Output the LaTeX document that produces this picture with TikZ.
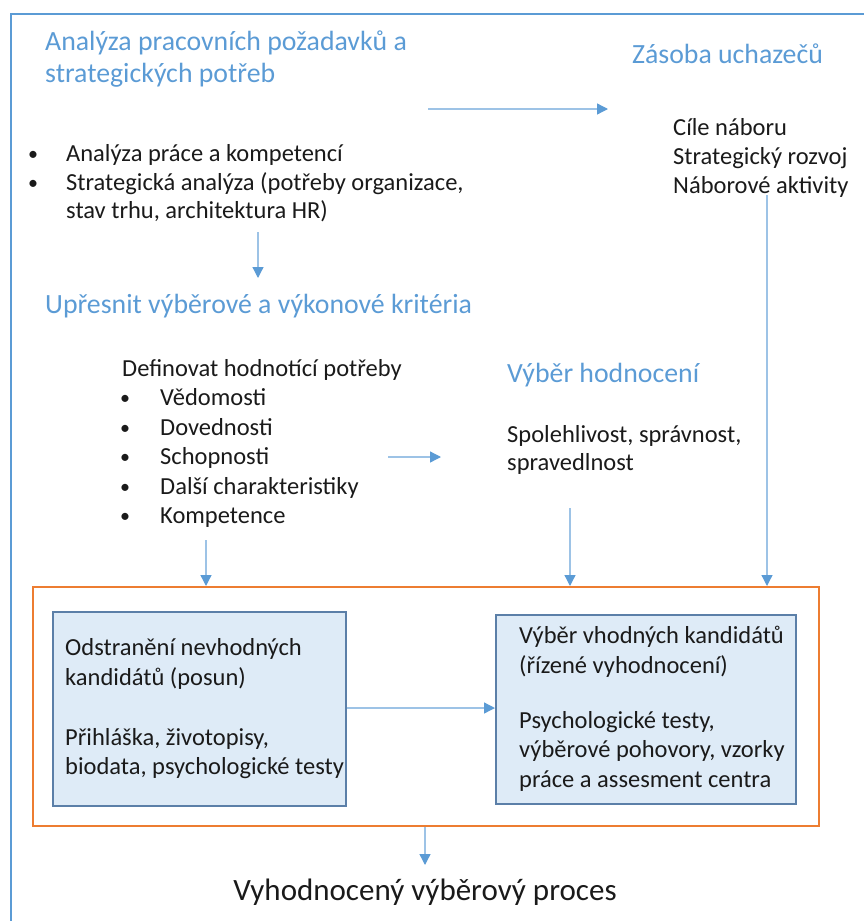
\documentclass[tikz,border=0pt]{standalone}
\usepackage{fontspec}
\setmainfont{Carlito}
\usetikzlibrary{arrows.meta}
\definecolor{hblue}{HTML}{5B9BD5}
\definecolor{lblue}{HTML}{9DC3E6}
\definecolor{borange}{HTML}{ED7D31}
\definecolor{bfill}{HTML}{DEEBF7}
\definecolor{bedge}{HTML}{5B7FA8}
\definecolor{txt}{HTML}{1A1A1A}
\tikzset{
  head/.style={font=\fontsize{27.8}{32}\selectfont, text=hblue, anchor=base west, inner sep=0pt},
  body/.style={font=\fontsize{24.5}{29}\selectfont, text=txt, anchor=base west, inner sep=0pt},
  bul/.style={font=\fontsize{20}{24}\selectfont, text=txt, anchor=base west, inner sep=0pt},
  flow/.style={draw=lblue, line width=1.3pt, -{Triangle[length=11pt,width=11pt,color=hblue]}},
  inbox/.style={draw=bedge, fill=bfill, line width=1.8pt},
}
\begin{document}
\begin{tikzpicture}[x=1pt,y=-1pt]
\useasboundingbox (0,0) rectangle (863,921);
% outer frame
\draw[hblue, line width=2.4pt] (11,940) -- (11,14) -- (880,14);
% headings
\node[head] (t1a) at (45,50) {Analýza pracovních požadavků a};
\node[head] (t1b) at (45,82) {strategických potřeb};
\node[head] (t2) at (632,63) {Zásoba uchazečů};
\node[head] (t3) at (45,313) {Upřesnit výběrové a výkonové kritéria};
\node[head] (t4) at (507,382) {Výběr hodnocení};
% right list
\node[body] (r1) at (673,135) {Cíle náboru};
\node[body] (r2) at (673,164) {Strategický rozvoj};
\node[body] (r3) at (673,193) {Náborové aktivity};
% left list
\node[bul] (b1) at (28,160) {•};
\node[body] (l1) at (66,161) {Analýza práce a kompetencí};
\node[bul] (b2) at (28,189) {•};
\node[body] (l2) at (66,190) {Strategická analýza (potřeby organizace,};
\node[body] (l3) at (66,218) {stav trhu, architektura HR)};
% criteria list
\node[body] (d0) at (122,376) {Definovat hodnotící potřeby};
\foreach \y/\t [count=\i] in {405/Vědomosti,435/Dovednosti,464/Schopnosti,494/Další charakteristiky,523/Kompetence}{
  \node[bul] (db\i) at (120,\y-1) {•};
  \node[body] (d\i) at (160,\y) {\t};
}
% assessment
\node[body] (s1) at (507,442) {Spolehlivost, správnost,};
\node[body] (s2) at (507,470) {spravedlnost};
% orange frame
\node[draw=borange, line width=1.8pt, minimum width=786pt, minimum height=239pt, inner sep=0pt, anchor=north west] (frame) at (32,586) {};
% boxes
\node[inbox, minimum width=293pt, minimum height=194pt, inner sep=0pt, anchor=north west] (boxL) at (52,611) {};
\node[inbox, minimum width=300pt, minimum height=189pt, inner sep=0pt, anchor=north west] (boxR) at (495,614) {};
\node[body] (L1) at (65,655) {Odstranění nevhodných};
\node[body] (L2) at (65,685) {kandidátů (posun)};
\node[body] (L3) at (65,745) {Přihláška, životopisy,};
\node[body] (L4) at (65,774) {biodata, psychologické testy};
\node[body] (R1) at (519,643) {Výběr vhodných kandidátů};
\node[body] (R2) at (519,673) {(řízené vyhodnocení)};
\node[body] (R3) at (519,728) {Psychologické testy,};
\node[body] (R4) at (519,757) {výběrové pohovory, vzorky};
\node[body] (R5) at (519,787) {práce a assesment centra};
% final
\node[font=\fontsize{31}{37}\selectfont, text=txt, anchor=base, inner sep=0pt] (fin) at (425,900) {Vyhodnocený výběrový proces};
% connector endpoints
\coordinate (a1s) at (428,109); \coordinate (a1e) at (608,109);
\coordinate (a2s) at (258,232); \coordinate (a2e) at (258,278);
\coordinate (a3s) at (388,457); \coordinate (a3e) at (441,457);
\coordinate (a4s) at (206,540); \coordinate (a4e) at (206,586);
\coordinate (a5s) at (570,508); \coordinate (a5e) at (570,586);
\coordinate (a6s) at (767,195); \coordinate (a6e) at (767,586);
\coordinate (a8e) at (425,865);
\draw[flow] (a1s) -- (a1e);
\draw[flow] (a2s) -- (a2e);
\draw[flow] (a3s) -- (a3e);
\draw[flow] (a4s) -- (a4e);
\draw[flow] (a5s) -- (a5e);
\draw[flow] (a6s) -- (a6e);
\draw[flow] (boxL.east |- 0,708) -- (boxR.west |- 0,708);
\draw[flow] (frame.south -| a8e) -- (a8e);
\end{tikzpicture}
\end{document}
